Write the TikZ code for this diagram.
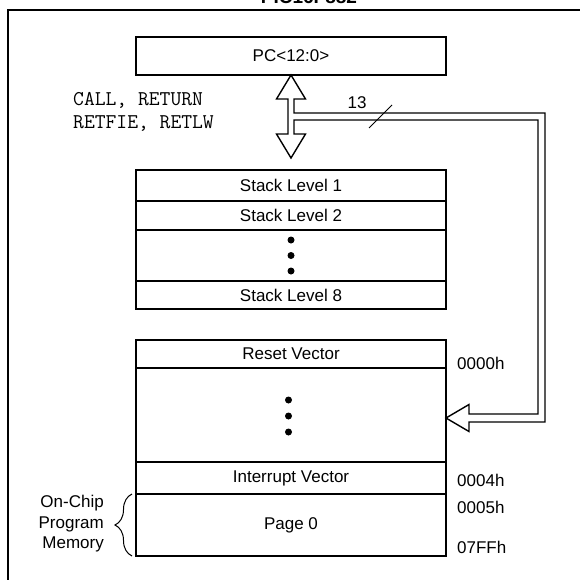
\documentclass[tikz,border=0pt]{standalone}
\usepackage{fontspec}
\setmainfont{Liberation Sans}
\usetikzlibrary{calc,positioning,decorations.pathreplacing}

\newcommand\cellfont{\fontsize{17}{20}\selectfont}
\newcommand\opfont{\ttfamily\fontsize{21}{23}\selectfont}

\tikzset{
  cell/.style={draw, line width=1.6pt, minimum width=310pt, inner sep=0pt,
    outer sep=0pt, font=\cellfont},
  addr/.style={anchor=west, inner sep=0pt, font=\cellfont},
  bus/.style={line width=1.4pt, line join=miter},
}

\begin{document}
\begin{tikzpicture}[x=1pt, y=-1pt]
    \useasboundingbox (0,0) rectangle (580,579);
    \clip (0,0) rectangle (580,579);

    % frame and (cut off) title
    \draw[line width=2.2pt] (8,10) rectangle (640,640);
    \node[anchor=base, inner sep=0pt, font=\bfseries\fontsize{19}{20}\selectfont]
      (title) at (309,3) {PIC16F882};

    % program counter
    \node[cell, minimum height=38pt] (pc) at (291,56) {PC<12:0>};

    % stack
    \node[cell, minimum height=31pt] (stk1) at (291,185.5) {Stack Level 1};
    \node[cell, minimum height=29pt, below=0pt of stk1] (stk2) {Stack Level 2};
    \node[cell, minimum height=51pt, below=0pt of stk2] (stkdots) {};
    \node[cell, minimum height=28pt, below=0pt of stkdots] (stk8) {Stack Level 8};
    \foreach \d in {-15.5,0,15.5}
      \fill ($(stkdots.center)+(0,\d)$) circle (3.5pt);

    % program memory
    \node[cell, minimum height=28pt] (rst) at (291,354) {Reset Vector};
    \node[cell, minimum height=94pt, below=0pt of rst] (memdots) {};
    \node[cell, minimum height=32pt, below=0pt of memdots] (irq) {Interrupt Vector};
    \node[cell, minimum height=62pt, below=0pt of irq] (page) {Page 0};
    \foreach \d in {-16,0,16}
      \fill ($(memdots.center)+(-2.5,\d+1)$) circle (3.5pt);

    % addresses
    \node[addr] (a0) at (457,363) {0000h};
    \node[addr] (a4) at (457,480) {0004h};
    \node[addr] (a5) at (457,507) {0005h};
    \node[addr] (aend) at (457,547) {07FFh};

    % instructions using the stack
    \node[anchor=west, inner sep=0pt, align=left, font=\opfont]
      (ops) at (73,111.5) {CALL, RETURN\\RETFIE, RETLW};

    % on-chip memory brace
    \draw[line width=1pt, decorate, decoration={brace, amplitude=17pt}]
      (page.south west) ++(-4,0) coordinate (brb) -- ($(page.north west)+(-4,0)$) coordinate (brt);
    \node[anchor=east, inner sep=0pt, align=right, font=\fontsize{17}{20.5}\selectfont]
      (onchip) at (104,524) {On-Chip\\Program\\Memory};

    % bus between PC, stack and memory
    \coordinate (T) at (pc.south);
    \coordinate (B) at ($(stk1.north)+(0,-12)$);
    \coordinate (R) at ($(memdots.east)+(0,3)$);
    \draw[bus] (T) -- ++(14.5,24) -- ++(-11.5,0) -- ++(0,14) -- (545,113)
      -- (545,422) -- ($(R)+(23,4)$) -- ++(0,9.5) -- (R) -- ++(23,-13.5)
      -- ++(0,9.5) -- (538,414) -- (538,120) -- ($(T)+(3,45)$)
      -- ($(B)+(3,-24)$) -- ++(11.5,0) -- (B) -- ++(-14.5,-24) -- ++(11.5,0)
      -- ($(T)+(-3,24)$) -- ++(-11.5,0) -- cycle;

    % bus width
    \coordinate (s1) at (369,128);
    \coordinate (s2) at (392,105);
    \draw[line width=1pt] (s1) -- (s2);
    \node[font=\cellfont, inner sep=0pt] (w) at (357,102.5) {13};
\end{tikzpicture}
\end{document}
